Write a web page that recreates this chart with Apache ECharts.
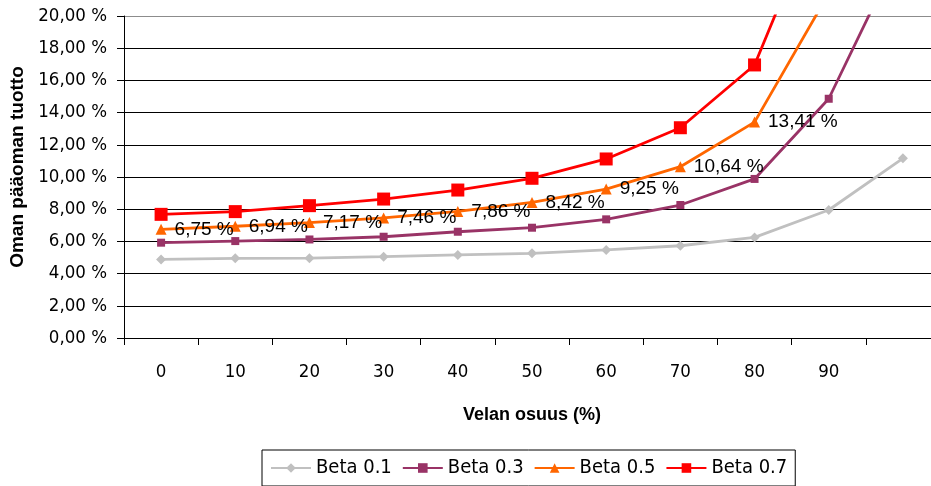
<!DOCTYPE html>
<html>
<head>
<meta charset="utf-8">
<title>Oman pääoman tuotto</title>
<script src="https://cdn.jsdelivr.net/npm/echarts@6/dist/echarts.min.js"></script>
<style>
html,body{margin:0;padding:0;background:#fff;}
#box1{width:931px;height:486px;}
</style>
</head>
<body>
<div id="box1"></div>
<script>
// velan osuus (%) - viimeinen sarake ilman nimeä
var categories = ['0', '10', '20', '30', '40', '50', '60', '70', '80', '90', ''];

var beta01 = [4.88, 4.95, 4.96, 5.05, 5.16, 5.26, 5.47, 5.73, 6.25, 7.95, 11.16];
var beta03 = [5.92, 6.02, 6.12, 6.29, 6.60, 6.85, 7.37, 8.26, 9.88, 14.86, 24.4];
var beta05 = [6.75, 6.94, 7.17, 7.46, 7.86, 8.42, 9.25, 10.64, 13.41, 21.4, null];
var beta07 = [7.68, 7.85, 8.22, 8.63, 9.19, 9.92, 11.12, 13.06, 16.96, 28.1, null];

var yTicks = [0, 2, 4, 6, 8, 10, 12, 14, 16, 18, 20];

function pct(v){
    return v.toFixed(2).replace('.', ',') + ' %';
}

var tickFont = 'DejaVu Sans Condensed';

var myChart = echarts.init(document.getElementById('box1'));

// gridline colours: top line grey, rest black
var gridColors = [];
for (var i = 0; i < yTicks.length; i++) {
    gridColors.push(i == yTicks.length - 1 ? '#8c8c8c' : '#000');
}

var option = {
    animation: false,
    backgroundColor: '#fff',
    grid: {
        left: 124,
        top: 16,
        width: 816,
        height: 322,
        containLabel: false,
        outerBoundsMode: 'none'
    },
    legend: {
        left: 262,
        top: 450,
        orient: 'horizontal',
        borderColor: '#000',
        borderWidth: 1,
        padding: [8, 8, 8, 8],
        itemWidth: 40,
        itemHeight: 12,
        itemGap: 10,
        textStyle: {
            fontFamily: tickFont,
            fontSize: 20,
            color: '#000'
        },
        data: ['Beta 0.1', 'Beta 0.3', 'Beta 0.5', 'Beta 0.7']
    },
    xAxis: {
        type: 'category',
        data: categories,
        boundaryGap: true,
        name: 'Velan osuus (%)',
        nameLocation: 'middle',
        nameGap: 68,
        nameTextStyle: {
            fontFamily: 'Liberation Sans',
            fontWeight: 'bold',
            fontSize: 18,
            color: '#000'
        },
        axisLine: {lineStyle: {color: '#000', width: 1}},
        axisTick: {show: true, length: 7, lineStyle: {color: '#000'}},
        axisLabel: {
            margin: 25,
            interval: 0,
            fontFamily: tickFont,
            fontSize: 18.5,
            color: '#000'
        },
        splitLine: {show: false}
    },
    yAxis: {
        type: 'value',
        min: 0,
        max: 20,
        interval: 2,
        name: 'Oman pääoman tuotto',
        nameLocation: 'middle',
        nameGap: 97,
        nameTextStyle: {
            fontFamily: 'Liberation Sans',
            fontWeight: 'bold',
            fontSize: 19,
            color: '#000',
            padding: [0, 0, 0, 20]
        },
        axisLine: {show: true, lineStyle: {color: '#000', width: 1}},
        axisTick: {show: true, length: 7, lineStyle: {color: '#000'}},
        axisLabel: {
            margin: 17,
            fontFamily: tickFont,
            fontSize: 18.5,
            color: '#000',
            formatter: function(v){ return pct(v); }
        },
        splitLine: {
            show: true,
            lineStyle: {color: gridColors, width: 1}
        }
    },
    series: [
        {
            name: 'Beta 0.1',
            type: 'line',
            data: beta01,
            symbol: 'diamond',
            symbolSize: 10,
            color: '#c0c0c0',
            lineStyle: {width: 2.8},
            z: 2
        },
        {
            name: 'Beta 0.3',
            type: 'line',
            data: beta03,
            symbol: 'rect',
            symbolSize: 8,
            color: '#993366',
            lineStyle: {width: 2.8},
            z: 3
        },
        {
            name: 'Beta 0.5',
            type: 'line',
            data: beta05,
            symbol: 'triangle',
            symbolSize: 11,
            color: '#ff6600',
            lineStyle: {width: 2.8},
            z: 4,
            label: {
                show: true,
                position: 'right',
                distance: 8,
                fontFamily: 'Liberation Sans',
                fontSize: 19,
                color: '#000',
                formatter: function(p){
                    if (p.value == null || p.value > 20) return '';
                    return pct(p.value);
                }
            }
        },
        {
            name: 'Beta 0.7',
            type: 'line',
            data: beta07,
            symbol: 'rect',
            symbolSize: 13,
            color: '#ff0000',
            lineStyle: {width: 2.8},
            z: 5
        }
    ]
};

myChart.setOption(option);
</script>
</body>
</html>
